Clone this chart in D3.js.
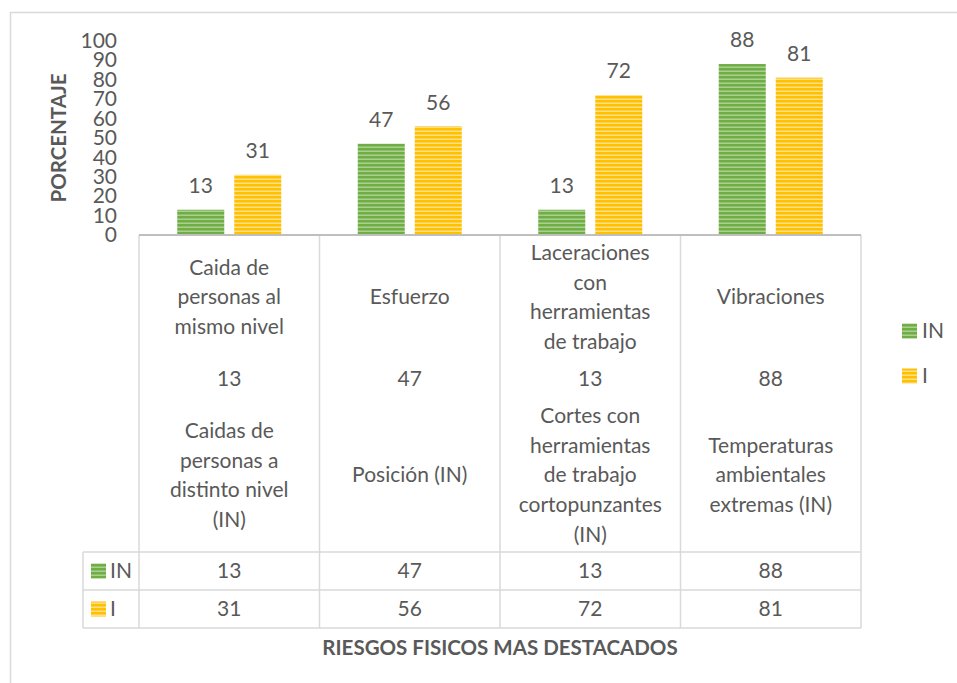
<!DOCTYPE html>
<html>
<head>
<meta charset="utf-8">
<script src="https://cdn.jsdelivr.net/npm/d3@7"></script>
<style>
  body { margin: 0; background: #fff; }
  svg { display: block; font-family: Lato, "Open Sans", sans-serif; }
</style>
</head>
<body>
<div id="chart"></div>
<script>
// chart data
const categories = [
  ["Caida de", "personas al", "mismo nivel"],
  ["Esfuerzo"],
  ["Laceraciones", "con", "herramientas", "de trabajo"],
  ["Vibraciones"]
];
const subCategories = [
  ["Caidas de", "personas a", "distinto nivel", "(IN)"],
  ["Posición (IN)"],
  ["Cortes con", "herramientas", "de trabajo", "cortopunzantes", "(IN)"],
  ["Temperaturas", "ambientales", "extremas (IN)"]
];
const seriesNames = ["IN", "I"];
const seriesIN = [13, 47, 13, 88];
const seriesI = [31, 56, 72, 81];
const yTicks = [0, 10, 20, 30, 40, 50, 60, 70, 80, 90, 100];
const yTitle = "PORCENTAJE";
const xTitle = "RIESGOS FISICOS MAS DESTACADOS";

const W = 957, H = 683;
const textColor = "#595959";
const gridColor = "#d9d9d9";
const fs = 21;
const colors = { IN: ["#70ad47", "#a9d18e"], I: ["#ffc000", "#ffe08a"] };

const svg = d3.select("#chart").append("svg")
  .attr("width", W)
  .attr("height", H);

// stripe patterns
const defs = svg.append("defs");
seriesNames.forEach(name => {
  const p = defs.append("pattern")
    .attr("id", "pat-" + name)
    .attr("patternUnits", "userSpaceOnUse")
    .attr("width", 8).attr("height", 4);
  p.append("rect").attr("width", 8).attr("height", 4).attr("fill", colors[name][0]);
  p.append("rect").attr("y", 2.5).attr("width", 8).attr("height", 1.5).attr("fill", colors[name][1]);
});

// chart area border
svg.append("rect")
  .attr("x", 10.5).attr("y", 12.5)
  .attr("width", 960).attr("height", 700)
  .attr("fill", "none")
  .attr("stroke", gridColor)
  .attr("stroke-width", 1.5);

const plotLeft = 139, plotRight = 861;
const y = d3.scaleLinear().domain([0, 100]).range([235, 40.7]);
const x = d3.scaleBand().domain(d3.range(categories.length)).range([plotLeft, plotRight]);
const xs = d3.scaleBand().domain(seriesNames)
  .range([(x.bandwidth() - 104) / 2, (x.bandwidth() + 104) / 2])
  .paddingInner(0.1754);

// y axis labels
const yAxis = svg.append("g")
  .attr("transform", "translate(117,0)")
  .call(d3.axisLeft(y).tickValues(yTicks).tickSize(0).tickPadding(0));
yAxis.select(".domain").remove();
yAxis.selectAll("text")
  .attr("font-family", "Lato, sans-serif")
  .attr("font-size", fs)
  .attr("fill", textColor);

svg.append("text")
  .attr("transform", "translate(59,138) rotate(-90)")
  .attr("text-anchor", "middle")
  .attr("dy", "0.35em")
  .attr("font-size", 20.5)
  .attr("font-weight", "bold")
  .attr("fill", textColor)
  .text(yTitle);

// bars
const seriesData = { IN: seriesIN, I: seriesI };
seriesNames.forEach(name => {
  const g = svg.append("g");
  g.selectAll("rect")
    .data(seriesData[name])
    .join("rect")
    .attr("x", (d, i) => x(i) + xs(name))
    .attr("y", d => y(d))
    .attr("width", xs.bandwidth())
    .attr("height", d => y(0) - y(d))
    .attr("fill", `url(#pat-${name})`);
  g.selectAll("text")
    .data(seriesData[name])
    .join("text")
    .attr("x", (d, i) => x(i) + xs(name) + xs.bandwidth() / 2)
    .attr("y", d => y(d) - 24)
    .attr("dy", "0.35em")
    .attr("text-anchor", "middle")
    .attr("font-size", fs)
    .attr("fill", textColor)
    .text(d => d);
});

// data table
const rowTop = 552, rowH = 38;
const tableLeft = 83;
const table = svg.append("g")
  .attr("stroke", gridColor)
  .attr("stroke-width", 1.5)
  .attr("fill", "none");
x.domain().concat([categories.length]).forEach(i => {
  const xx = i < categories.length ? x(i) : plotRight;
  table.append("line").attr("x1", xx).attr("x2", xx).attr("y1", 235).attr("y2", rowTop + 2 * rowH);
});
[0, 1, 2].forEach(r => {
  table.append("line").attr("x1", tableLeft).attr("x2", plotRight)
    .attr("y1", rowTop + r * rowH).attr("y2", rowTop + r * rowH);
});
table.append("line").attr("x1", tableLeft).attr("x2", tableLeft).attr("y1", rowTop).attr("y2", rowTop + 2 * rowH);

// category axis line
svg.append("line")
  .attr("x1", plotLeft).attr("x2", plotRight)
  .attr("y1", 235).attr("y2", 235)
  .attr("stroke", "#bfbfbf").attr("stroke-width", 2);

const lineH = 29.6;
function multiLine(lines, cx, cy) {
  const t = svg.append("text")
    .attr("text-anchor", "middle")
    .attr("font-size", fs)
    .attr("fill", textColor);
  lines.forEach((l, k) => {
    t.append("tspan")
      .attr("x", cx)
      .attr("y", cy + (k - (lines.length - 1) / 2) * lineH)
      .attr("dy", "0.35em")
      .text(l);
  });
}
categories.forEach((c, i) => {
  const cx = x(i) + x.bandwidth() / 2;
  multiLine(c, cx, 297);
  multiLine([String(seriesIN[i])], cx, 379);
  multiLine(subCategories[i], cx, 475);
});

seriesNames.forEach((name, r) => {
  const cy = rowTop + r * rowH + rowH / 2;
  svg.append("rect")
    .attr("x", 91).attr("y", cy - 7.5)
    .attr("width", 15).attr("height", 15)
    .attr("fill", `url(#pat-${name})`);
  svg.append("text")
    .attr("x", 110).attr("y", cy).attr("dy", "0.35em")
    .attr("font-size", fs).attr("fill", textColor)
    .text(name);
  seriesData[name].forEach((v, i) => {
    svg.append("text")
      .attr("x", x(i) + x.bandwidth() / 2).attr("y", cy).attr("dy", "0.35em")
      .attr("text-anchor", "middle")
      .attr("font-size", fs).attr("fill", textColor)
      .text(v);
  });
});

// legend
seriesNames.forEach((name, k) => {
  const cy = 331 + k * 45;
  svg.append("rect")
    .attr("x", 902).attr("y", cy - 7.5)
    .attr("width", 15).attr("height", 15)
    .attr("fill", `url(#pat-${name})`);
  svg.append("text")
    .attr("x", 922).attr("y", cy).attr("dy", "0.35em")
    .attr("font-size", fs).attr("fill", textColor)
    .text(name);
});

svg.append("text")
  .attr("x", 500).attr("y", 648).attr("dy", "0.35em")
  .attr("text-anchor", "middle")
  .attr("font-size", 20.5)
  .attr("font-weight", "bold")
  .attr("fill", textColor)
  .text(xTitle);
</script>
</body>
</html>
